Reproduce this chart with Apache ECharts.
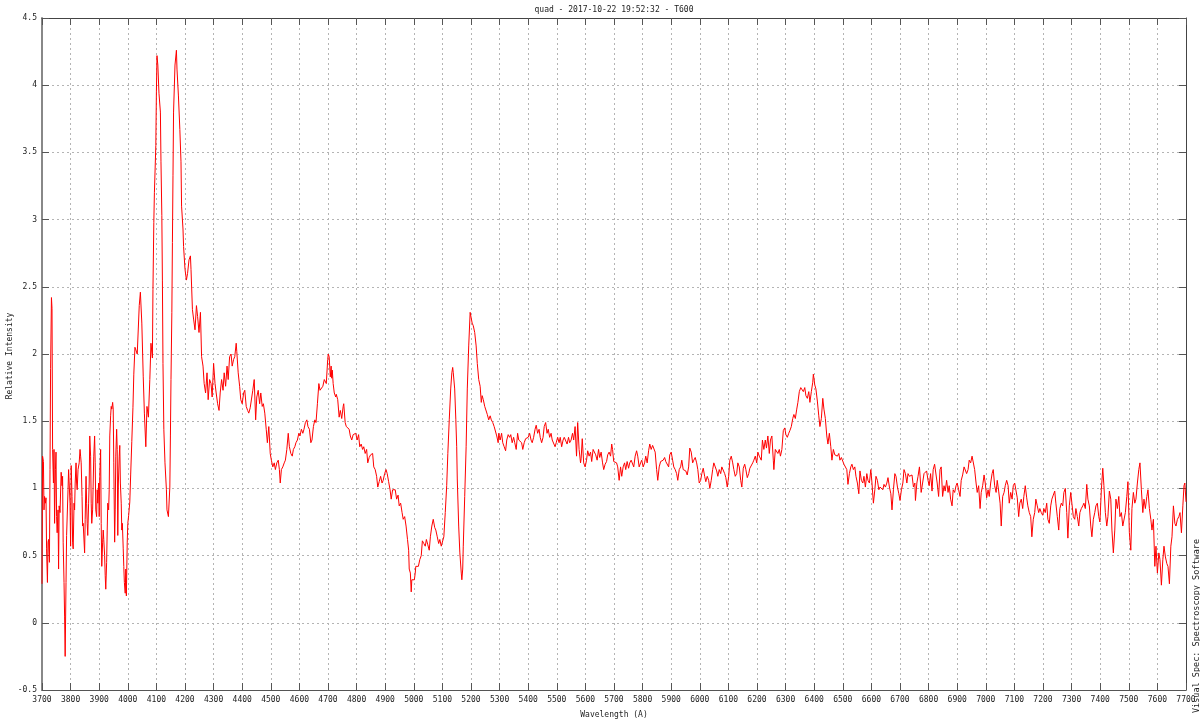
<!DOCTYPE html>
<html>
<head>
<meta charset="utf-8">
<script src="https://cdn.jsdelivr.net/npm/echarts@6/dist/echarts.min.js"></script>
<style>html,body{margin:0;padding:0;background:#fff}#c{width:1200px;height:720px}</style>
</head>
<body>
<div id="c"></div>
<script>
// Title / axis texts
const chartTitle = 'quad - 2017-10-22 19:52:32 - T600';
const xName = 'Wavelength (A)';
const yName = 'Relative Intensity';
const sideNote = 'Visual Spec: Spectroscopy Software';
const xRange = [3700, 7700, 100];
const yRange = [-0.5, 4.5, 0.5];

// Spectrum samples [wavelength (A), relative intensity]
const spec3700 = [[3700,0.29],[3702,1.24],[3705,1.2],[3707,0.84],[3709,0.94],[3712,0.89],[3714,0.93],[3716,0.55],[3719,0.3],[3721,0.6],[3723,0.62],[3726,0.45],[3728,1.14],[3730,1.89],[3733,2.42],[3735,2.34],[3737,1.29],[3740,1.04],[3742,1.29],[3744,0.74],[3747,1.14],[3749,1.27],[3751,0.79],[3753,0.67],[3756,0.84],[3758,0.4],[3760,0.87],[3763,0.82],[3767,1.12],[3770,1.02],[3772,1.09],[3774,0.6],[3777,0.3],[3779,0.05],[3781,-0.25],[3784,0.3],[3786,0.65],[3791,0.99],[3793,1.14],[3795,1.04],[3798,0.89],[3800,0.57],[3802,1.17],[3805,0.94],[3807,0.6],[3809,0.55],[3812,0.89],[3814,0.84],[3816,1.04],[3819,1.19],[3821,1.04],[3823,0.99],[3826,1.14],[3830,1.19],[3833,1.29],[3835,1.24],[3837,1.19],[3840,0.94],[3842,0.72],[3844,0.74],[3849,0.52],[3851,0.77],[3854,1.09],[3856,0.89],[3858,0.74],[3860,0.65],[3863,0.89],[3865,1.04],[3867,1.39],[3870,1.24],[3872,0.89],[3874,0.74],[3877,0.84],[3879,1.04],[3881,1.24],[3884,1.39],[3886,1.19],[3888,0.84],[3891,0.79],[3893,0.99],[3895,0.89],[3898,1.04],[3900,0.79],[3902,1.09],[3905,1.29],[3907,0.74],[3909,0.42],[3912,0.6],[3914,0.69],[3916,0.62],[3919,0.5],[3921,0.35],[3923,0.25],[3926,0.45],[3928,0.69],[3930,0.89],[3933,0.84],[3935,0.99],[3937,1.39],[3940,1.54],[3942,1.61],[3944,1.59],[3947,1.64],[3949,1.59],[3951,1.19],[3954,0.6],[3956,0.84],[3958,1.24],[3961,1.44],[3963,1.29],[3965,0.65],[3967,1.04],[3970,1.24],[3972,1.32],[3974,1.04],[3977,0.89],[3979,0.69],[3981,0.74],[3984,0.55],[3986,0.42],[3988,0.3],[3991,0.22],[3993,0.4],[3995,0.2],[3998,0.6],[4000,0.74],[4003,0.8],[4007,0.9],[4010,1.1],[4014,1.35],[4018,1.6],[4021,1.85],[4025,2.05]];

const spec4000 = [[4028,2.06],[4033,2.0],[4040,2.36],[4044,2.46],[4049,2.23],[4054,1.83],[4058,1.56],[4063,1.31],[4067,1.61],[4072,1.53],[4077,1.81],[4081,2.08],[4086,1.97],[4088,2.48],[4091,2.98],[4093,3.2],[4098,3.55],[4100,3.95],[4102,4.22],[4105,4.15],[4109,3.94],[4114,3.8],[4116,3.43],[4119,3.03],[4121,2.55],[4123,1.93],[4126,1.44],[4130,1.19],[4135,0.99],[4137,0.84],[4142,0.79],[4147,1.01],[4149,1.39],[4151,1.81],[4154,2.31],[4156,2.83],[4158,3.33],[4160,3.8],[4165,4.15],[4170,4.26],[4172,4.12],[4177,3.92],[4182,3.67],[4186,3.43],[4188,3.1],[4193,2.93],[4195,2.8],[4200,2.63],[4205,2.55],[4209,2.6],[4214,2.7],[4219,2.73],[4221,2.63],[4226,2.33],[4230,2.26],[4235,2.18],[4240,2.36],[4244,2.28],[4249,2.16],[4254,2.31],[4258,1.98],[4263,1.91],[4267,1.78],[4272,1.71],[4277,1.86],[4281,1.66],[4286,1.81],[4291,1.78],[4295,1.68],[4300,1.93],[4305,1.78],[4309,1.71],[4314,1.63],[4319,1.58],[4323,1.71],[4328,1.81],[4333,1.73],[4337,1.86],[4342,1.76],[4347,1.91],[4351,1.81],[4356,1.98],[4361,2.0],[4365,1.91],[4370,1.96],[4374,1.98],[4379,2.08],[4381,2.02],[4386,1.86],[4391,1.76],[4395,1.66],[4400,1.63],[4405,1.71],[4409,1.73],[4414,1.61],[4419,1.58],[4423,1.56],[4428,1.6],[4433,1.61],[4437,1.73],[4442,1.81],[4447,1.51],[4451,1.68],[4456,1.73],[4461,1.63],[4465,1.71],[4470,1.61],[4474,1.63],[4479,1.56],[4484,1.44],[4488,1.34],[4493,1.46],[4498,1.26],[4502,1.21],[4507,1.16],[4512,1.19],[4516,1.14],[4521,1.19],[4526,1.21],[4530,1.14],[4533,1.04],[4537,1.14],[4542,1.16],[4547,1.19],[4551,1.21],[4556,1.29],[4561,1.41],[4565,1.31],[4570,1.26],[4575,1.24],[4579,1.29],[4584,1.31],[4588,1.34],[4593,1.36],[4598,1.41],[4602,1.39],[4607,1.44],[4612,1.41],[4616,1.44],[4621,1.49],[4626,1.51],[4630,1.46],[4635,1.44],[4640,1.34],[4644,1.36],[4649,1.46],[4654,1.51],[4658,1.49],[4663,1.63],[4668,1.78],[4672,1.73]];

const spec4700 = [[4678,1.73],[4682,1.76],[4687,1.81],[4692,1.82],[4694,1.78],[4699,1.96],[4701,2.0],[4704,1.98],[4706,1.91],[4708,1.83],[4711,1.91],[4713,1.82],[4715,1.88],[4718,1.78],[4722,1.71],[4727,1.68],[4729,1.7],[4734,1.66],[4739,1.53],[4743,1.58],[4748,1.52],[4753,1.61],[4755,1.63],[4760,1.49],[4764,1.46],[4769,1.47],[4774,1.44],[4778,1.39],[4783,1.36],[4788,1.4],[4793,1.39],[4797,1.41],[4802,1.36],[4807,1.4],[4811,1.31],[4816,1.33],[4821,1.29],[4825,1.31],[4830,1.26],[4835,1.29],[4839,1.19],[4844,1.23],[4849,1.25],[4853,1.24],[4856,1.26],[4860,1.16],[4865,1.14],[4870,1.09],[4874,1.01],[4879,1.05],[4884,1.09],[4889,1.04],[4893,1.06],[4898,1.11],[4903,1.14],[4907,1.11],[4912,1.05],[4917,0.99],[4921,0.92],[4926,0.99],[4931,0.98],[4935,0.99],[4940,0.92],[4945,0.95],[4949,0.87],[4954,0.89],[4959,0.82],[4963,0.77],[4968,0.79],[4973,0.72],[4978,0.62],[4982,0.54]];

const spec5000 = [[4984,0.4],[4988,0.37],[4991,0.23],[4993,0.32],[4998,0.33],[5002,0.32],[5005,0.37],[5007,0.42],[5012,0.41],[5016,0.42],[5021,0.47],[5026,0.5],[5030,0.61],[5035,0.59],[5040,0.57],[5044,0.62],[5049,0.58],[5054,0.54],[5058,0.64],[5063,0.72],[5068,0.77],[5073,0.71],[5077,0.69],[5082,0.64],[5087,0.59],[5091,0.62],[5096,0.57],[5101,0.58],[5105,0.64],[5110,0.82],[5115,1.02],[5119,1.26],[5124,1.51],[5129,1.74],[5133,1.86],[5136,1.9],[5138,1.86],[5143,1.74],[5147,1.51],[5150,1.31],[5152,1.07],[5157,0.72],[5161,0.52],[5166,0.37],[5168,0.32],[5171,0.4],[5173,0.57],[5178,0.94],[5183,1.31],[5187,1.74],[5192,2.06],[5197,2.31],[5199,2.32],[5204,2.23],[5208,2.21],[5213,2.16],[5218,2.06],[5222,1.93],[5227,1.81],[5232,1.76],[5236,1.64],[5239,1.69],[5243,1.66],[5248,1.61],[5253,1.6],[5257,1.55],[5262,1.51],[5267,1.54],[5271,1.51],[5276,1.49],[5281,1.46],[5285,1.47],[5290,1.39],[5295,1.34],[5297,1.41],[5302,1.36],[5307,1.41],[5311,1.34],[5316,1.31],[5321,1.28],[5325,1.36],[5330,1.4],[5335,1.38],[5339,1.4],[5344,1.34],[5349,1.38],[5353,1.34],[5358,1.29],[5363,1.41],[5367,1.36],[5372,1.37],[5377,1.34],[5381,1.29],[5386,1.34],[5391,1.37],[5395,1.36],[5400,1.38],[5405,1.41],[5410,1.36],[5414,1.34],[5419,1.38],[5424,1.44],[5428,1.47],[5433,1.41],[5438,1.44],[5442,1.38],[5447,1.34],[5452,1.38],[5456,1.46],[5461,1.49],[5466,1.41],[5470,1.44],[5475,1.38],[5480,1.41],[5484,1.36],[5489,1.36],[5494,1.31],[5498,1.34],[5503,1.38],[5508,1.34],[5512,1.38],[5517,1.31],[5522,1.36],[5526,1.38],[5531,1.38],[5536,1.33],[5541,1.38],[5545,1.34],[5550,1.36],[5555,1.41],[5559,1.36],[5564,1.46],[5569,1.24],[5573,1.49],[5578,1.29],[5583,1.19]];

const spec5600 = [[5585,1.22],[5589,1.37],[5594,1.19],[5599,1.16],[5604,1.21],[5608,1.28],[5613,1.24],[5618,1.27],[5622,1.2],[5627,1.29],[5632,1.3],[5636,1.25],[5641,1.21],[5646,1.29],[5650,1.23],[5655,1.27],[5660,1.19],[5664,1.14],[5669,1.18],[5674,1.2],[5678,1.25],[5683,1.27],[5688,1.24],[5692,1.33],[5695,1.29],[5699,1.2],[5704,1.21],[5709,1.19],[5713,1.16],[5718,1.06],[5723,1.16],[5727,1.09],[5732,1.16],[5737,1.19],[5741,1.14],[5746,1.2],[5751,1.15],[5755,1.19],[5760,1.21],[5765,1.2],[5769,1.16],[5774,1.24],[5779,1.28],[5783,1.24],[5788,1.16],[5793,1.19],[5797,1.21],[5802,1.16],[5807,1.19],[5811,1.24],[5816,1.19],[5821,1.28],[5825,1.33],[5830,1.29],[5835,1.32],[5839,1.33],[5844,1.27],[5849,1.14],[5853,1.06],[5858,1.16],[5863,1.2],[5867,1.19],[5872,1.21],[5877,1.23],[5881,1.2],[5886,1.21],[5891,1.16],[5895,1.25],[5900,1.27],[5905,1.21],[5909,1.16],[5914,1.14],[5919,1.11],[5923,1.06],[5928,1.14],[5933,1.16],[5937,1.21],[5942,1.14],[5947,1.15],[5951,1.13],[5956,1.1],[5961,1.16],[5965,1.3],[5970,1.27],[5975,1.19],[5979,1.21],[5984,1.23],[5989,1.19],[5993,1.14],[5998,1.04],[6003,1.06],[6007,1.11],[6012,1.15],[6017,1.09],[6021,1.05],[6026,1.09],[6031,1.06],[6035,1.0],[6040,1.06],[6045,1.14],[6049,1.19],[6054,1.2],[6059,1.13],[6063,1.09],[6068,1.14],[6073,1.11],[6077,1.16],[6082,1.15],[6087,1.11],[6091,1.08],[6096,1.01],[6101,1.09],[6105,1.21],[6110,1.24],[6115,1.19],[6119,1.14],[6124,1.09],[6129,1.11],[6133,1.19],[6138,1.16],[6143,1.06],[6147,1.01],[6152,1.15],[6157,1.18],[6161,1.14],[6166,1.08],[6171,1.11],[6175,1.15],[6180,1.14],[6185,1.19],[6189,1.21],[6194,1.24],[6199,1.19],[6203,1.27],[6208,1.24]];

const spec6200 = [[6215,1.21],[6219,1.36],[6224,1.29],[6229,1.36],[6233,1.3],[6238,1.39],[6243,1.26],[6247,1.36],[6252,1.39],[6257,1.21],[6259,1.14],[6264,1.29],[6268,1.3],[6273,1.26],[6278,1.29],[6282,1.24],[6287,1.29],[6292,1.43],[6297,1.45],[6301,1.4],[6306,1.38],[6311,1.41],[6315,1.43],[6320,1.46],[6325,1.52],[6329,1.55],[6334,1.52],[6339,1.59],[6343,1.64],[6348,1.72],[6353,1.75],[6357,1.74],[6362,1.72],[6367,1.75],[6371,1.69],[6376,1.67],[6381,1.72],[6385,1.64],[6390,1.72],[6395,1.79],[6397,1.85],[6399,1.82],[6402,1.77],[6406,1.74],[6411,1.65],[6416,1.54],[6420,1.46],[6425,1.52],[6430,1.67],[6434,1.59],[6439,1.52],[6444,1.39],[6448,1.33],[6453,1.41],[6458,1.31],[6462,1.21],[6467,1.29],[6472,1.25],[6476,1.26],[6481,1.24],[6486,1.26],[6490,1.21],[6495,1.23],[6500,1.24],[6504,1.18],[6509,1.19],[6514,1.14],[6518,1.03],[6523,1.11],[6528,1.16],[6532,1.18],[6537,1.14],[6542,1.16],[6546,1.09],[6551,1.04],[6556,0.96],[6560,1.13],[6565,1.06],[6570,1.04],[6574,1.09],[6579,1.01],[6584,1.11],[6588,1.06],[6593,1.04],[6598,1.14],[6602,1.04],[6607,0.89],[6612,0.99],[6616,1.09],[6621,1.06],[6626,0.99],[6630,1.01],[6635,1.0],[6640,0.99],[6644,1.03],[6649,1.01],[6654,1.04],[6658,1.08],[6663,1.01],[6668,0.96],[6672,0.84],[6677,0.99],[6682,1.11],[6686,1.09],[6691,1.01],[6696,0.96],[6700,0.91],[6705,0.99],[6710,1.04],[6714,1.14],[6719,1.11],[6724,1.04],[6728,1.11],[6733,1.09],[6738,1.08],[6742,1.1],[6747,1.01],[6752,1.04],[6754,0.91],[6759,1.04],[6763,1.09],[6768,1.16]];

const spec6800 = [[6774,0.97],[6779,1.04],[6784,1.11],[6788,1.1],[6793,1.13],[6798,1.06],[6802,1.02],[6807,1.11],[6812,0.98],[6816,1.14],[6821,1.18],[6826,1.19],[6830,1.04],[6835,0.94],[6840,1.14],[6844,1.16],[6849,0.94],[6854,1.02],[6858,0.98],[6863,1.06],[6868,0.97],[6872,1.02],[6877,0.92],[6882,0.87],[6886,0.99],[6891,0.97],[6896,1.02],[6900,1.04],[6905,0.99],[6910,0.94],[6914,1.06],[6919,1.1],[6924,1.16],[6928,1.15],[6933,1.11],[6938,1.14],[6942,1.21],[6947,1.19],[6952,1.24],[6956,1.25],[6961,1.14],[6966,1.04],[6970,0.97],[6975,1.02],[6980,0.85],[6984,0.97],[6989,1.02],[6994,1.1],[6998,1.04],[7003,0.93],[7008,0.99],[7012,0.94],[7017,1.04],[7022,1.11],[7026,1.14],[7031,1.02],[7036,0.97],[7040,1.06],[7045,0.98],[7050,0.89],[7054,0.72],[7059,0.94],[7064,0.97],[7068,1.02],[7073,1.06],[7078,1.02],[7082,0.89],[7087,0.97],[7092,0.92],[7096,1.02],[7101,1.04],[7105,0.99],[7110,0.93],[7115,0.79],[7119,0.89],[7124,0.92],[7129,0.85],[7133,0.94],[7138,1.02],[7143,0.93],[7147,0.87],[7152,0.82],[7157,0.79],[7161,0.64],[7166,0.77],[7171,0.82],[7175,0.92],[7180,0.87],[7185,0.82],[7189,0.85],[7194,0.82],[7199,0.8],[7203,0.85],[7208,0.82],[7213,0.89],[7217,0.77],[7222,0.74],[7227,0.87],[7231,0.92],[7236,0.95],[7241,0.98],[7245,0.89],[7250,0.79],[7255,0.69],[7259,0.85],[7264,0.89],[7269,0.87],[7273,0.97],[7278,1.0],[7283,0.82],[7287,0.63],[7292,0.87],[7297,0.97],[7301,0.89],[7306,0.79],[7311,0.77],[7315,0.85],[7320,0.79],[7325,0.72],[7329,0.82],[7334,0.85],[7339,0.87],[7343,0.89],[7348,0.85],[7353,1.03],[7357,0.92],[7362,0.87],[7367,0.72],[7371,0.64],[7376,0.77],[7381,0.82],[7385,0.87],[7390,0.89],[7395,0.79],[7399,0.75],[7404,0.99],[7409,1.15],[7413,1.02],[7418,0.82],[7423,0.72],[7427,0.79],[7432,0.98],[7437,0.92],[7441,0.69],[7446,0.52],[7451,0.69],[7455,0.92],[7460,0.85],[7465,0.94],[7469,0.79],[7474,0.82],[7479,0.72],[7483,0.72],[7488,0.82],[7493,0.94],[7497,1.05],[7502,0.67],[7507,0.54],[7511,0.85],[7516,0.97],[7521,0.89],[7525,0.92],[7530,1.04],[7535,1.14],[7539,1.19],[7544,0.99],[7549,0.82],[7553,0.92],[7558,0.85],[7563,0.94],[7567,0.99],[7572,0.85],[7577,0.77],[7581,0.69],[7586,0.77],[7591,0.42],[7595,0.57],[7600,0.37],[7605,0.52],[7609,0.47],[7614,0.28],[7619,0.47],[7623,0.57],[7628,0.49],[7633,0.44],[7637,0.42],[7642,0.29],[7647,0.57],[7651,0.64],[7656,0.87],[7661,0.74],[7665,0.72],[7670,0.77],[7675,0.79],[7679,0.82],[7684,0.67],[7689,0.87],[7693,1.02],[7696,1.04],[7700,0.9]];

const spectrum = [].concat(spec3700, spec4000, spec4700, spec5000, spec5600, spec6200, spec6800);

const FONT = 'DejaVu Sans Mono';
const chart = echarts.init(document.getElementById('c'), null, {renderer: 'canvas'});
const plainNum = v => String(v);
const axisBase = {
  type: 'value',
  min: xRange[0], max: xRange[1], interval: xRange[2]
};
chart.setOption({
  animation: false,
  backgroundColor: '#ffffff',
  grid: {left: 42, right: 14, top: 18, bottom: 30, containLabel: false, outerBoundsMode: 'none'},
  graphic: [
    {type: 'text', x: 614, y: 10, style: {text: chartTitle, font: '8px "DejaVu Sans Mono"', fill: '#222', align: 'center', verticalAlign: 'middle'}},
    {type: 'text', x: 10, y: 356, rotation: Math.PI / 2, style: {text: yName, font: '8px "DejaVu Sans Mono"', fill: '#222', align: 'center', verticalAlign: 'middle'}},
    {type: 'text', x: 1197, y: 626, rotation: Math.PI / 2, style: {text: sideNote, font: '8.5px "DejaVu Sans Mono"', fill: '#222', align: 'center', verticalAlign: 'middle'}}
  ],
  xAxis: [
    Object.assign({}, axisBase, {
      position: 'bottom',
      name: xName, nameLocation: 'middle', nameGap: 21,
      nameTextStyle: {fontFamily: FONT, fontSize: 8, color: '#222'},
      axisLine: {show: true, onZero: false, lineStyle: {color: '#555', width: 1}},
      axisTick: {show: true, inside: true, length: 7, lineStyle: {color: '#555'}},
      axisLabel: {fontFamily: FONT, fontSize: 8, color: '#222', margin: 6, formatter: plainNum},
      splitLine: {show: true, lineStyle: {color: '#b4b4b4', type: [2, 3], width: 1}}
    }),
    Object.assign({}, axisBase, {
      position: 'top',
      axisLine: {show: true, onZero: false, lineStyle: {color: '#444', width: 1}},
      axisTick: {show: true, inside: true, length: 7, lineStyle: {color: '#555'}},
      axisLabel: {show: false},
      splitLine: {show: false}
    })
  ],
  yAxis: [
    {
      type: 'value', min: yRange[0], max: yRange[1], interval: yRange[2],
      position: 'left',
      axisLine: {show: true, onZero: false, lineStyle: {color: '#888', width: 2}},
      axisTick: {show: true, inside: true, length: 7, lineStyle: {color: '#555'}},
      axisLabel: {fontFamily: FONT, fontSize: 8, color: '#222', margin: 5, formatter: plainNum},
      splitLine: {show: true, lineStyle: {color: '#b4b4b4', type: [2, 3], width: 1}}
    },
    {
      type: 'value', min: yRange[0], max: yRange[1], interval: yRange[2],
      position: 'right',
      axisLine: {show: true, onZero: false, lineStyle: {color: '#444', width: 1}},
      axisTick: {show: true, inside: true, length: 7, lineStyle: {color: '#555'}},
      axisLabel: {show: false},
      splitLine: {show: false}
    }
  ],
  series: [{
    type: 'line',
    xAxisIndex: 0, yAxisIndex: 0,
    data: spectrum,
    showSymbol: false, symbol: 'none',
    lineStyle: {color: '#ff0000', width: 1},
    clip: true,
    z: 5
  }]
});
</script>
</body>
</html>
